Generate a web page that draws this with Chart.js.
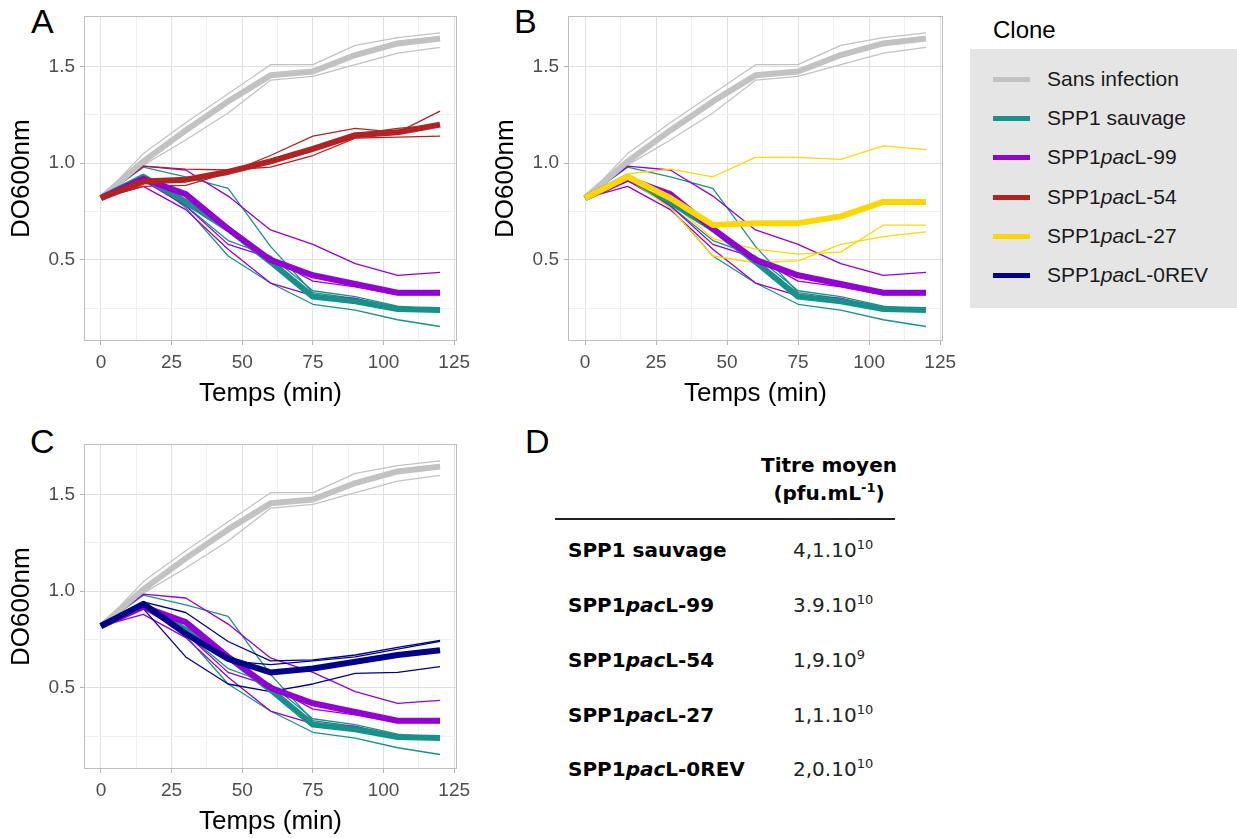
<!DOCTYPE html>
<html>
<head>
<meta charset="utf-8">
<script src="https://cdn.jsdelivr.net/npm/chart.js@4.4.0/dist/chart.umd.min.js"></script>
<style>
  body{margin:0;background:#fff;width:1237px;height:838px;position:relative;overflow:hidden;font-family:"Liberation Sans",Arial,sans-serif;color:#000}
  .pane{position:absolute}
  .letter{position:absolute;font-size:34px;line-height:34px}
  #legend{position:absolute;left:970px;top:49px;width:267px;height:259px;background:#e5e5e5}
  #legendTitle{position:absolute;left:993px;top:18px;font-size:24px;line-height:24px}
  .lrow{position:absolute;left:993px;height:24px;display:flex;align-items:center;font-size:21px;color:#1a1a1a}
  .lrow .key{width:37px;height:5px;margin-right:17px}
  .tab{position:absolute;font-family:"DejaVu Sans",Verdana,sans-serif;font-size:20px;line-height:20px;white-space:nowrap}
  .tab.b{font-weight:bold}
  .tab sup{font-size:13px;vertical-align:8px;line-height:0}
  #rule{position:absolute;left:555px;top:518px;width:340px;height:2px;background:#222}
</style>
</head>
<body>
<div class="letter" style="left:31px;top:4px">A</div>
<div class="letter" style="left:514px;top:4px">B</div>
<div class="letter" style="left:30px;top:424px">C</div>
<div class="letter" style="left:525px;top:424px">D</div>

<canvas id="chartA" class="pane" style="left:0;top:0" width="482" height="410"></canvas>
<canvas id="chartB" class="pane" style="left:484px;top:0" width="484" height="410"></canvas>
<canvas id="chartC" class="pane" style="left:0;top:428px" width="482" height="410"></canvas>

<div id="legendTitle">Clone</div>
<div id="legend"></div>
<div id="legendRows"></div>

<div id="table"></div>

<script>
// Time points (min) and axis ticks
const times  = [0, 15, 30, 45, 60, 75, 90, 105, 120];
const xMajor = [0, 25, 50, 75, 100, 125];
const xMinor = [12.5, 37.5, 62.5, 87.5, 112.5];
const yMajor = [0.5, 1.0, 1.5];
const yMinor = [0.25, 0.75, 1.25];

// Sans infection
const grayMean = [0.82, 1.01, 1.17, 1.32, 1.455, 1.475, 1.56, 1.62, 1.645];
const grayRep1 = [0.82, 1.05, 1.21, 1.36, 1.51, 1.51, 1.61, 1.65, 1.675];
const grayRep2 = [0.82, 0.99, 1.12, 1.26, 1.43, 1.45, 1.51, 1.57, 1.60];
const grayRep3 = [0.82, 1.01, 1.18, 1.33, 1.46, 1.47, 1.56, 1.63, 1.655];

// SPP1 sauvage
const tealMean = [0.82, 0.93, 0.80, 0.66, 0.49, 0.31, 0.285, 0.245, 0.24];
const tealRep1 = [0.82, 0.98, 0.93, 0.87, 0.57, 0.33, 0.30, 0.255, 0.245];
const tealRep2 = [0.82, 0.94, 0.77, 0.52, 0.38, 0.27, 0.24, 0.19, 0.155];
const tealRep3 = [0.82, 0.93, 0.78, 0.60, 0.52, 0.34, 0.31, 0.26, 0.24];

// SPP1pacL-99
const purpMean = [0.82, 0.92, 0.84, 0.66, 0.50, 0.42, 0.375, 0.33, 0.33];
const purpRep1 = [0.82, 0.985, 0.965, 0.83, 0.655, 0.58, 0.48, 0.42, 0.435];
const purpRep2 = [0.82, 0.91, 0.78, 0.58, 0.51, 0.39, 0.36, 0.32, 0.32];
const purpRep3 = [0.82, 0.88, 0.76, 0.555, 0.38, 0.315, 0.30, 0.245, 0.235];

// SPP1pacL-54
const redMean = [0.82, 0.905, 0.915, 0.955, 1.01, 1.075, 1.145, 1.16, 1.20];
const redRep1 = [0.82, 0.88, 0.885, 0.95, 1.04, 1.14, 1.18, 1.16, 1.27];
const redRep2 = [0.82, 0.985, 0.97, 0.965, 0.98, 1.04, 1.13, 1.135, 1.14];
const redRep3 = [0.82, 0.90, 0.91, 0.955, 1.015, 1.08, 1.15, 1.18, 1.20];

// SPP1pacL-27
const yelMean = [0.82, 0.93, 0.82, 0.68, 0.69, 0.69, 0.725, 0.80, 0.80];
const yelRep1 = [0.82, 0.945, 0.97, 0.93, 1.03, 1.03, 1.02, 1.09, 1.07];
const yelRep2 = [0.82, 0.93, 0.80, 0.61, 0.555, 0.53, 0.54, 0.68, 0.68];
const yelRep3 = [0.82, 0.92, 0.77, 0.52, 0.485, 0.495, 0.58, 0.62, 0.645];

// SPP1pacL-0REV
const blueMean = [0.82, 0.935, 0.78, 0.65, 0.58, 0.60, 0.635, 0.67, 0.695];
const blueRep1 = [0.82, 0.945, 0.89, 0.74, 0.64, 0.645, 0.67, 0.71, 0.745];
const blueRep2 = [0.82, 0.93, 0.81, 0.64, 0.62, 0.64, 0.66, 0.70, 0.74];
const blueRep3 = [0.82, 0.91, 0.66, 0.52, 0.48, 0.52, 0.575, 0.58, 0.61];

// Table D
const tableNames  = ['SPP1 sauvage', 'SPP1<i>pac</i>L-99', 'SPP1<i>pac</i>L-54', 'SPP1<i>pac</i>L-27', 'SPP1<i>pac</i>L-0REV'];
const tableMant   = ['4,1.10', '3.9.10', '1,9.10', '1,1.10', '2,0.10'];
const tableExp    = ['10', '10', '9', '10', '10'];

const clones = {
  gray:   { name:'Sans infection',      color:'#c2c2c2', mean:grayMean, reps:[grayRep1, grayRep2, grayRep3] },
  teal:   { name:'SPP1 sauvage',        color:'#19918a', mean:tealMean, reps:[tealRep1, tealRep2, tealRep3] },
  purple: { name:'SPP1<i>pac</i>L-99',  color:'#9400d3', mean:purpMean, reps:[purpRep1, purpRep2, purpRep3] },
  red:    { name:'SPP1<i>pac</i>L-54',  color:'#b22222', mean:redMean,  reps:[redRep1, redRep2, redRep3] },
  yellow: { name:'SPP1<i>pac</i>L-27',  color:'#ffd700', mean:yelMean,  reps:[yelRep1, yelRep2, yelRep3] },
  blue:   { name:'SPP1<i>pac</i>L-0REV',color:'#00008b', mean:blueMean, reps:[blueRep1, blueRep2, blueRep3] }
};

Chart.defaults.font.family = '"Liberation Sans", Arial, sans-serif';

// ggplot-like panel border on top of the data
const panelBorder = {
  id:'panelBorder',
  afterDatasetsDraw(chart){
    const a = chart.chartArea, c = chart.ctx;
    c.save(); c.strokeStyle = '#bdbdbd'; c.lineWidth = 1;
    c.strokeRect(Math.round(a.left)+0.5, Math.round(a.top)+0.5, Math.round(a.right-a.left)-1, Math.round(a.bottom-a.top)-1);
    c.restore();
  }
};

const pts = arr => times.map((t,i)=>({x:t, y:arr[i]}));
const gridColor = (major) => c => (c.tick && major.includes(c.tick.value)) ? '#e0e0e0' : '#f0f0f0';
const tickColor = (major) => c => (c.tick && major.includes(c.tick.value)) ? '#b3b3b3' : 'rgba(0,0,0,0)';

function makePanel(id, list){
  const thin = [], thick = [];
  list.forEach(k=>{
    const cl = clones[k];
    cl.reps.forEach(r=> thin.push({ data:pts(r), borderColor:cl.color, borderWidth:1.3 }));
    thick.push({ data:pts(cl.mean), borderColor:cl.color, borderWidth:6 });
  });
  // first dataset is painted last, so reverse the bottom-to-top order
  const datasets = thin.concat(thick).reverse();
  datasets.forEach(d=>{ d.pointRadius = 0; d.fill = false; d.tension = 0; d.borderJoinStyle = 'round'; });

  new Chart(document.getElementById(id), {
    type:'line',
    data:{ datasets },
    plugins:[panelBorder],
    options:{
      responsive:false, animation:false, devicePixelRatio:1,
      layout:{ padding:{ left:0, right:25, top:15, bottom:0 } },
      plugins:{ legend:{display:false}, tooltip:{enabled:false} },
      scales:{
        x:{
          type:'linear', min:-6, max:126,
          afterBuildTicks: s => { s.ticks = xMajor.concat(xMinor).sort((a,b)=>a-b).map(v=>({value:v})); },
          afterFit: s => { s.height = 69; },
          grid:{ color:gridColor(xMajor), tickColor:tickColor(xMajor), tickLength:4, lineWidth:1 },
          border:{ display:false },
          ticks:{ autoSkip:false, maxRotation:0, minRotation:0, padding:6, color:'#4d4d4d', font:{size:19},
                  callback: v => xMajor.includes(v) ? String(v) : '' },
          title:{ display:true, text:'Temps (min)', color:'#000', font:{size:26}, padding:{top:0, bottom:1} }
        },
        y:{
          type:'linear', min:0.08, max:1.76,
          afterBuildTicks: s => { s.ticks = yMajor.concat(yMinor).sort((a,b)=>a-b).map(v=>({value:v})); },
          afterFit: s => { s.width = 84; },
          grid:{ color:gridColor(yMajor), tickColor:tickColor(yMajor), tickLength:4, lineWidth:1 },
          border:{ display:false },
          ticks:{ padding:5, color:'#4d4d4d', font:{size:19},
                  callback: v => yMajor.includes(v) ? v.toFixed(1) : '' },
          title:{ display:true, text:'DO600nm', color:'#000', font:{size:26}, padding:{top:6, bottom:0} }
        }
      }
    }
  });
}

makePanel('chartA', ['gray','teal','purple','red']);
makePanel('chartB', ['gray','teal','purple','yellow']);
makePanel('chartC', ['gray','teal','purple','blue']);

// Legend
const legendOrder = ['gray','teal','purple','red','yellow','blue'];
document.getElementById('legendRows').innerHTML = legendOrder.map((k,i)=>{
  const top = Math.round(79 + i*39.2 - 12);
  return `<div class="lrow" style="top:${top}px"><div class="key" style="background:${clones[k].color}"></div><span>${clones[k].name}</span></div>`;
}).join('');

// Table D
const rowBase = [557, 612, 667, 722, 776];
let html = '<div class="tab b" style="left:729px;width:200px;text-align:center;top:455px">Titre moyen</div>'
         + '<div class="tab b" style="left:729px;width:200px;text-align:center;top:483px">(pfu.mL<sup>-1</sup>)</div>'
         + '<div id="rule"></div>';
tableNames.forEach((n,i)=>{
  const top = rowBase[i] - 17;
  html += `<div class="tab b" style="left:568px;top:${top}px">${n}</div>`;
  html += `<div class="tab" style="left:793px;top:${top}px;color:#222">${tableMant[i]}<sup>${tableExp[i]}</sup></div>`;
});
document.getElementById('table').innerHTML = html;
</script>
</body>
</html>
